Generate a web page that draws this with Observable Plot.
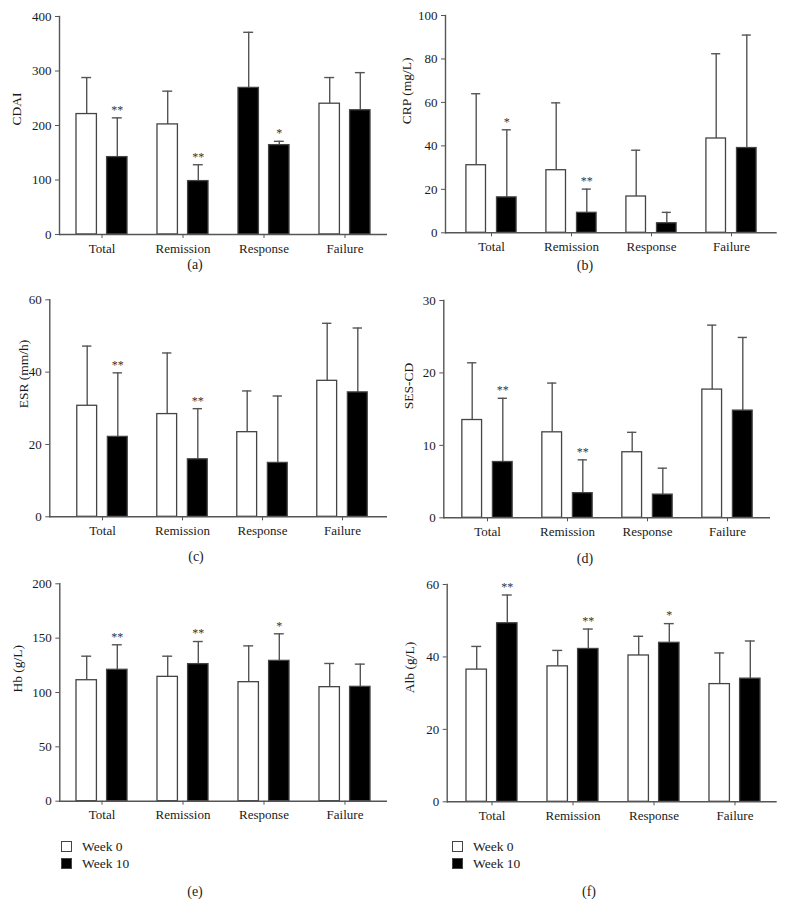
<!DOCTYPE html>
<html>
<head>
<meta charset="utf-8">
<script src="https://cdn.jsdelivr.net/npm/d3@7"></script>
<script src="https://cdn.jsdelivr.net/npm/@observablehq/plot@0.6"></script>
<style>
  html, body { margin: 0; padding: 0; background: #fff; }
  body { font-family: "Liberation Serif", "Times New Roman", serif; color: #222; }
  #root { position: relative; width: 785px; height: 905px; overflow: hidden; }
  .panel { position: absolute; }
  .cap { position: absolute; font-size: 14px; transform: translate(-50%, -50%); white-space: nowrap; }
  .legend { position: absolute; font-size: 13.5px; line-height: 17px; }
  .legend .row { display: flex; align-items: center; height: 17px; }
  .legend .sw { width: 9px; height: 9px; border: 1px solid #444; margin-right: 10px; box-sizing: content-box; }
</style>
</head>
<body>
<div id="root"></div>
<script>
// ---------- data ----------
const categories = ["Total", "Remission", "Response", "Failure"];
const seriesNames = ["Week 0", "Week 10"];

const cdaiWeek0 = [221, 202, 269, 240];
const cdaiWeek0SD = [67, 61, 102, 48];
const cdaiWeek10 = [142, 98, 164, 228];
const cdaiWeek10SD = [72, 30, 7, 69];
const cdaiStars = ["**", "**", "*", ""];
const cdaiWeek0Fill = ["white", "white", "black", "white"];
const cdaiTicks = [0, 100, 200, 300, 400];

const crpWeek0 = [31.1, 28.8, 16.7, 43.4];
const crpWeek0SD = [32.9, 31.0, 21.3, 39.0];
const crpWeek10 = [16.3, 9.2, 4.4, 39.0];
const crpWeek10SD = [31.1, 10.9, 5.0, 52.0];
const crpStars = ["*", "**", "", ""];
const crpTicks = [0, 20, 40, 60, 80, 100];

const esrWeek0 = [30.7, 28.4, 23.4, 37.6];
const esrWeek0SD = [16.5, 16.9, 11.4, 15.9];
const esrWeek10 = [22.1, 15.9, 14.9, 34.4];
const esrWeek10SD = [17.7, 14.0, 18.5, 17.8];
const esrStars = ["**", "**", "", ""];
const esrTicks = [0, 20, 40, 60];

const sesWeek0 = [13.5, 11.8, 9.05, 17.7];
const sesWeek0SD = [7.9, 6.8, 2.75, 8.9];
const sesWeek10 = [7.7, 3.4, 3.2, 14.8];
const sesWeek10SD = [8.8, 4.6, 3.65, 10.1];
const sesStars = ["**", "**", "", ""];
const sesTicks = [0, 10, 20, 30];

const hbWeek0 = [111.3, 114.4, 109.5, 104.9];
const hbWeek0SD = [22.1, 19.0, 33.4, 21.8];
const hbWeek10 = [120.9, 126.1, 129.1, 105.2];
const hbWeek10SD = [23.0, 20.8, 24.9, 20.9];
const hbStars = ["**", "**", "*", ""];
const hbTicks = [0, 50, 100, 150, 200];

const albWeek0 = [36.5, 37.4, 40.4, 32.5];
const albWeek0SD = [6.4, 4.4, 5.3, 8.6];
const albWeek10 = [49.3, 42.2, 43.9, 34.0];
const albWeek10SD = [7.8, 5.5, 5.3, 10.4];
const albStars = ["**", "**", "*", ""];
const albTicks = [0, 20, 40, 60];

// ---------- panels ----------
const panels = [
  {id: "(a)", label: "CDAI", w0: cdaiWeek0, sd0: cdaiWeek0SD, w10: cdaiWeek10, sd10: cdaiWeek10SD, stars: cdaiStars, fill0: cdaiWeek0Fill, ticks: cdaiTicks,
   left: 0, top: 0, width: 392, height: 262, mt: 16, mb: 28, ml: 59, mr: 5, range: [61.2, 385.5], labelX: 16, cap: [195, 265]},
  {id: "(b)", label: "CRP (mg/L)", w0: crpWeek0, sd0: crpWeek0SD, w10: crpWeek10, sd10: crpWeek10SD, stars: crpStars, ticks: crpTicks,
   left: 392, top: 0, width: 393, height: 262, mt: 15, mb: 29.7, ml: 53, mr: 8.3, range: [57.5, 381.2], labelX: 14, cap: [585, 265.7]},
  {id: "(c)", label: "ESR (mm/h)", w0: esrWeek0, sd0: esrWeek0SD, w10: esrWeek10, sd10: esrWeek10SD, stars: esrStars, ticks: esrTicks,
   left: 0, top: 283, width: 392, height: 262, mt: 16.3, mb: 28.7, ml: 49.3, mr: 5, range: [60.4, 383], labelX: 23, cap: [196, 556.7]},
  {id: "(d)", label: "SES-CD", w0: sesWeek0, sd0: sesWeek0SD, w10: sesWeek10, sd10: sesWeek10SD, stars: sesStars, ticks: sesTicks,
   left: 392, top: 283, width: 393, height: 262, mt: 17, mb: 27.7, ml: 51.3, mr: 15, range: [53.6, 376.7], labelX: 16, cap: [585, 559.3]},
  {id: "(e)", label: "Hb (g/L)", w0: hbWeek0, sd0: hbWeek0SD, w10: hbWeek10, sd10: hbWeek10SD, stars: hbStars, ticks: hbTicks,
   left: 0, top: 566, width: 392, height: 262, mt: 17.3, mb: 27.3, ml: 59.3, mr: 5, range: [61.2, 385.5], labelX: 17, cap: [195, 891.7], legend: [61, 838]},
  {id: "(f)", label: "Alb (g/L)", w0: albWeek0, sd0: albWeek0SD, w10: albWeek10, sd10: albWeek10SD, stars: albStars, ticks: albTicks,
   left: 392, top: 566, width: 393, height: 262, mt: 18, mb: 26.7, ml: 54.7, mr: 8.3, range: [59.2, 383.5], labelX: 17, cap: [589, 891.7], legend: [452, 838]}
];

const root = document.getElementById("root");
const AXIS = "#555";
const INK = "#1a1a1a";
const FONT = "Liberation Serif, Times New Roman, serif";

for (const p of panels) {
  const week0 = categories.map((c, i) => ({cat: c, v: p.w0[i], up: p.w0[i] + p.sd0[i], fill: p.fill0 ? p.fill0[i] : "white", star: ""}));
  const week10 = categories.map((c, i) => ({cat: c, v: p.w10[i], up: p.w10[i] + p.sd10[i], fill: "black", star: p.stars[i]}));
  const step = (p.range[1] - p.range[0]) / categories.length;
  const barInset = (step - 20.5) / 2;
  const capInset = (step - 10) / 2;
  const off = 15.3;
  const yMax = p.ticks[p.ticks.length - 1];

  const seriesMarks = (data, dx) => [
    Plot.ruleX(data, {x: "cat", y1: "v", y2: "up", dx, stroke: AXIS, strokeWidth: 1.4}),
    Plot.tickY(data, {x: "cat", y: "up", dx, stroke: AXIS, strokeWidth: 1.4, insetLeft: capInset, insetRight: capInset}),
    Plot.barY(data, {x: "cat", y: "v", dx, fill: "fill", stroke: "#444", strokeWidth: 1.3, insetLeft: barInset, insetRight: barInset}),
    Plot.text(data, {x: "cat", y: "up", dx, dy: -8, text: "star", fontSize: 12, fill: "#333"})
  ];

  const chart = Plot.plot({
    width: p.width,
    height: p.height,
    marginTop: p.mt,
    marginBottom: p.mb,
    marginLeft: p.ml,
    marginRight: p.mr,
    style: {fontFamily: FONT, fontSize: "13px", color: INK, background: "transparent", overflow: "visible"},
    x: {type: "band", domain: categories, range: p.range, padding: 0},
    y: {domain: [0, yMax]},
    color: {type: "identity"},
    marks: [
      ...seriesMarks(week0, -off),
      ...seriesMarks(week10, off),
      Plot.ruleY([0], {stroke: AXIS, strokeWidth: 1.4}),
      Plot.frame({anchor: "left", stroke: AXIS, strokeWidth: 1.4}),
      Plot.axisY({ticks: p.ticks, tickSize: 4, tickPadding: 4, stroke: AXIS, fill: INK, fontSize: 13, label: null, tickFormat: d3.format("d")}),
      Plot.axisX({tickSize: 4, tickPadding: 5, stroke: AXIS, fill: INK, fontSize: 13, label: null}),
      Plot.text([p.label], {frameAnchor: "left", dx: p.labelX - p.ml, rotate: -90, fontSize: 13.5, fill: INK})
    ]
  });
  chart.classList.add("panel");
  chart.style.left = p.left + "px";
  chart.style.top = p.top + "px";
  root.appendChild(chart);

  const cap = document.createElement("div");
  cap.className = "cap";
  cap.textContent = p.id;
  cap.style.left = p.cap[0] + "px";
  cap.style.top = p.cap[1] + "px";
  root.appendChild(cap);

  if (p.legend) {
    const lg = document.createElement("div");
    lg.className = "legend";
    lg.style.left = p.legend[0] + "px";
    lg.style.top = p.legend[1] + "px";
    const fills = ["white", "black"];
    seriesNames.forEach((name, i) => {
      const row = document.createElement("div");
      row.className = "row";
      const sw = document.createElement("span");
      sw.className = "sw";
      sw.style.background = fills[i];
      const t = document.createElement("span");
      t.textContent = name;
      row.appendChild(sw);
      row.appendChild(t);
      lg.appendChild(row);
    });
    root.appendChild(lg);
  }
}
</script>
</body>
</html>
